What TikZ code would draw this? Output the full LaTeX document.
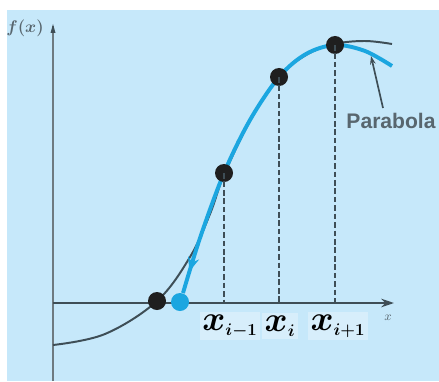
\documentclass[tikz,border=0pt]{standalone}
\usepackage{fontspec}
\usepackage{tikz}
\usetikzlibrary{arrows.meta,positioning,decorations.markings}
\newfontfamily\labelfont{Liberation Sans}
\definecolor{panelblue}{RGB}{198,232,250}
\definecolor{curveblue}{RGB}{27,166,224}
\definecolor{axisgray}{RGB}{62,78,86}
\definecolor{textgray}{RGB}{88,102,110}

\begin{document}
\begin{tikzpicture}[
    x=0.025cm, y=-0.025cm,
    dot/.style={circle, fill=black!88, inner sep=0pt, minimum size=0.45cm},
    rootdot/.style={circle, fill=curveblue, inner sep=0pt, minimum size=0.45cm},
    axis/.style={axisgray, line width=1.9pt},
    guide/.style={axisgray, line width=1.7pt, dash pattern=on 4pt off 2pt},
    xlab/.style={inner sep=2pt, fill=white, fill opacity=0.3, text opacity=1, font=\boldmath\fontsize{24}{26}\selectfont}
]
\useasboundingbox (0,0) rectangle (439,381);
\fill[panelblue] (7,10) rectangle (439,381);

% axes
\coordinate (O) at (53,303);
\coordinate (ytop) at (53,26);
\coordinate (ybot) at (53,381);
\coordinate (xend) at (394,303);
\draw[axis, axisgray!75] (ybot) -- (ytop);
\fill[axisgray] (ytop) ++(0,-2) -- ++(-2.5,9) -- ++(5,0) -- cycle;
\draw[axis, -{Stealth[length=9pt,width=6pt]}] (O) -- (xend);
\node[text=textgray, font=\boldmath\large] (fx) at (25,28) {$f(x)$};
\node[text=textgray, font=\small] (xx) at (388,318) {$x$};

% true function
\draw[axisgray, line width=1.4pt] plot[smooth, tension=0.6] coordinates
    {(53,345) (105,334) (157,301) (190,257) (210,214) (224,175) (250,121) (279,77) (306,55) (335,44) (365,41) (392,44)};

% parabola through the three points
\draw[curveblue, line width=2.8pt,
    postaction={decorate},
    decoration={markings, mark=at position -16pt with {\arrow{Stealth[length=10pt,width=8pt]}}}]
    plot[smooth, tension=0.55] coordinates
    {(392,66) (365,51) (335,45) (306,54) (279,77) (250,120) (224,173) (200,238) (183,293)};

% points
\node[dot] (x0) at (157,301) {};
\node[dot] (x1) at (224,173) {};
\node[dot] (x2) at (279,77) {};
\node[dot] (x3) at (335,45) {};
\node[rootdot] (x4) at (180,302) {};

\draw[guide] (x1.center) -- (x1 |- O);
\draw[guide] (x2.center) -- (x2 |- O);
\draw[guide] (x3.center) -- (x3 |- O);

\node[xlab] (l1) at (230,326) {$x_{\scriptscriptstyle i-1}$};
\node[xlab] (l2) at (280,326) {$x_{\scriptscriptstyle i}$};
\node[xlab] (l3) at (338,326) {$x_{\scriptscriptstyle i+1}$};

\node[text=textgray, font=\labelfont\bfseries\fontsize{15}{17}\selectfont] (par) at (391,121) {Parabola};
\coordinate (partip) at (371,56);
\draw[axisgray, line width=1.2pt, -{Stealth[length=6pt,width=4pt]}] (383,108) -- (partip);
\end{tikzpicture}
\end{document}
